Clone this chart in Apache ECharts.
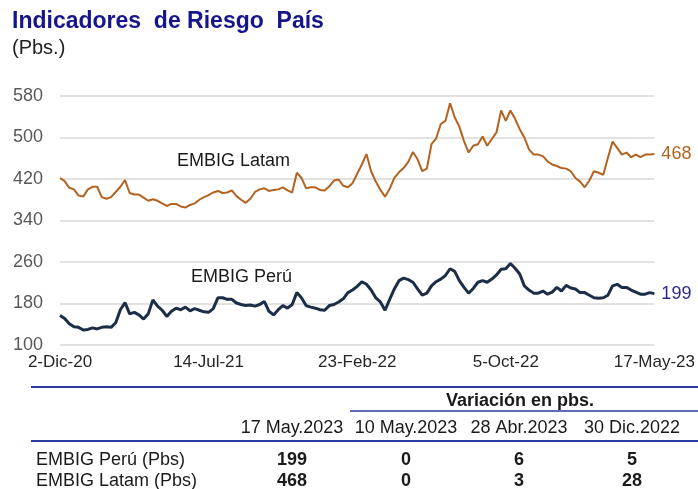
<!DOCTYPE html>
<html>
<head>
<meta charset="utf-8">
<script src="https://cdn.jsdelivr.net/npm/echarts@6/dist/echarts.min.js"></script>
<style>
html,body{margin:0;padding:0;background:#fff;}
#main{width:698px;height:489px;}
</style>
</head>
<body>
<div id="main"></div>
<script>
// weekly observations starting 2-Dic-2020 (129 weeks, to 17-May-2023)
const startDate = [2020, 11, 2];
const weeks = 129;
const monthNames = ['Ene','Feb','Mar','Abr','May','Jun','Jul','Ago','Sep','Oct','Nov','Dic'];

const latam = [
  422,416,403,400,388,386,400,405,405,385,382,385,395,405,418,393,390,390,384,378,381,378,373,368,372,
  372,367,365,370,373,380,385,389,394,397,393,394,398,387,380,374,382,395,400,402,397,399,400,404,398,394,
  432,422,402,404,404,399,398,406,417,419,407,404,412,430,448,468,435,415,399,386,401,422,433,441,453,472,
  458,
  435,440,487,498,526,532,566,539,521,493,471,484,487,502,484,497,510,552,532,552,536,516,500,477,467,
  467,464,454,448,445,441,440,435,422,415,404,417,435,432,428,461,492,480,467,471,462,467,462,467,467,468
];
const peru = [
  157,151,141,135,134,129,130,133,131,134,135,134,143,168,182,160,163,158,150,160,187,175,167,155,165,
  171,168,173,166,170,167,164,163,170,191,191,188,188,181,178,176,177,175,178,184,165,158,168,176,171,178,
  201,
  191,176,173,171,168,167,176,178,183,189,201,206,213,222,217,206,191,183,167,188,208,224,229,226,221,
  208,
  196,200,214,222,227,234,247,242,224,211,200,209,221,224,221,227,235,246,247,257,248,237,214,206,200,
  200,204,198,202,211,204,215,210,208,201,201,196,191,190,191,196,214,217,211,211,206,202,198,198,201,199
];

const yTicks = {min: 100, max: 580, step: 80};

const tableHeaders = ['17 May.2023', '10 May.2023', '28 Abr.2023', '30 Dic.2022'];
const tableGroupTitle = 'Variación en pbs.';
const tableRowNames = ['EMBIG Perú (Pbs)', 'EMBIG Latam (Pbs)'];
const tableValues = [[199, 0, 6, 5], [468, 0, 3, 28]];

const seriesNames = ['EMBIG Latam', 'EMBIG Perú'];

const categories = [];
for (let i = 0; i < weeks; i++) {
  const d = new Date(Date.UTC(startDate[0], startDate[1], startDate[2] + 7 * i));
  categories.push(d.getUTCDate() + '-' + monthNames[d.getUTCMonth()] + '-' + String(d.getUTCFullYear()).slice(2));
}

const FONT = '"Liberation Sans", Arial, sans-serif';
const LATAM_C = '#B4621F';
const PERU_C = '#1C2E47';
const BLUE = '#2B3A9E';

const chart = echarts.init(document.getElementById('main'), null, {renderer: 'canvas'});

const graphics = [
  {type: 'text', left: 12, top: 10, style: {text: 'Indicadores  de Riesgo  País', font: 'bold 23px ' + FONT, fill: '#16168C'}},
  {type: 'text', left: 12, top: 38, style: {text: '(Pbs.)', font: '20px ' + FONT, fill: '#222'}},
  {type: 'text', x: 177, y: 161, style: {text: seriesNames[0], font: '18px ' + FONT, fill: '#1a1a1a', textVerticalAlign: 'middle'}},
  {type: 'text', x: 191, y: 277, style: {text: seriesNames[1], font: '18px ' + FONT, fill: '#1a1a1a', textVerticalAlign: 'middle'}},
  {type: 'line', shape: {x1: 31, y1: 387, x2: 698, y2: 387}, style: {stroke: BLUE, lineWidth: 2}},
  {type: 'line', shape: {x1: 350, y1: 411, x2: 698, y2: 411}, style: {stroke: BLUE, lineWidth: 1.5}},
  {type: 'line', shape: {x1: 31, y1: 441, x2: 698, y2: 441}, style: {stroke: BLUE, lineWidth: 2}},
  {type: 'text', x: 520, y: 401, style: {text: tableGroupTitle, font: 'bold 18px ' + FONT, fill: '#1a1a1a', textAlign: 'center', textVerticalAlign: 'middle'}}
];
const colX = [292, 406, 519, 632];
const rowY = [460, 481];
tableHeaders.forEach((h, i) => {
  graphics.push({type: 'text', x: colX[i], y: 428, style: {text: h, font: '18px ' + FONT, fill: '#1a1a1a', textAlign: 'center', textVerticalAlign: 'middle'}});
});
tableRowNames.forEach((r, j) => {
  graphics.push({type: 'text', x: 36, y: rowY[j], style: {text: r, font: '18px ' + FONT, fill: '#1a1a1a', textVerticalAlign: 'middle'}});
  tableValues[j].forEach((v, i) => {
    graphics.push({type: 'text', x: colX[i], y: rowY[j], style: {text: String(v), font: 'bold 18px ' + FONT, fill: '#1a1a1a', textAlign: 'center', textVerticalAlign: 'middle'}});
  });
});

chart.setOption({
  animation: false,
  backgroundColor: '#fff',
  grid: {left: 60, right: 42, top: 96, bottom: 144},
  xAxis: {
    type: 'category',
    data: categories,
    boundaryGap: false,
    axisLine: {show: false},
    axisTick: {show: false},
    axisLabel: {interval: 31, color: '#262626', fontSize: 17, fontFamily: FONT, margin: 9, showMaxLabel: true},
    splitLine: {show: false}
  },
  yAxis: {
    type: 'value',
    min: yTicks.min, max: yTicks.max, interval: yTicks.step,
    axisLine: {show: false},
    axisTick: {show: false},
    axisLabel: {color: '#595959', fontSize: 18, fontFamily: FONT, margin: 17},
    splitLine: {lineStyle: {color: '#D9D9D9', width: 1.5}}
  },
  series: [
    {
      name: seriesNames[0], type: 'line', data: latam, showSymbol: false,
      lineStyle: {color: LATAM_C, width: 2}, itemStyle: {color: LATAM_C},
      endLabel: {show: true, formatter: p => String(p.value), color: LATAM_C, fontSize: 18, fontFamily: FONT, distance: 7}
    },
    {
      name: seriesNames[1], type: 'line', data: peru, showSymbol: false,
      lineStyle: {color: PERU_C, width: 3}, itemStyle: {color: PERU_C},
      endLabel: {show: true, formatter: p => String(p.value), color: '#2D2A8C', fontSize: 18, fontFamily: FONT, distance: 7}
    }
  ],
  graphic: graphics
});
</script>
</body>
</html>
